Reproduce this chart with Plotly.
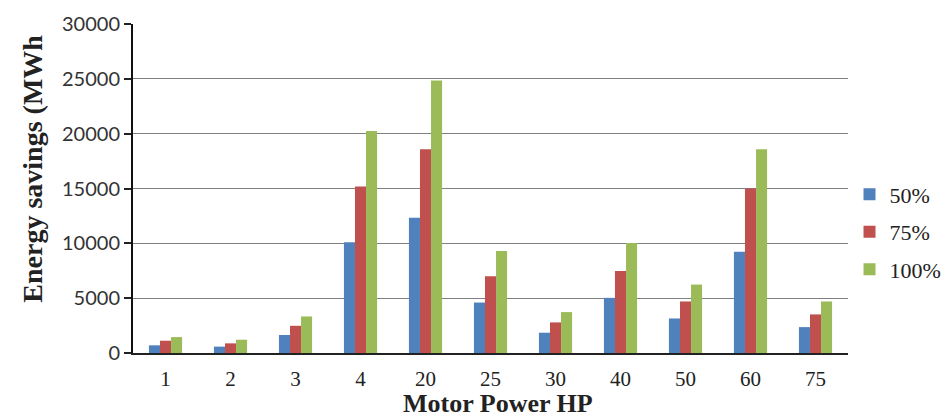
import plotly.graph_objects as go

categories = ["1", "2", "3", "4", "20", "25", "30", "40", "50", "60", "75"]
s50 = [700, 580, 1640, 10090, 12330, 4600, 1850, 5030, 3150, 9240, 2360]
s75 = [1120, 880, 2480, 15180, 18580, 7000, 2790, 7480, 4700, 15000, 3520]
s100 = [1450, 1210, 3330, 20240, 24850, 9300, 3730, 10030, 6240, 18580, 4700]
series_names = ["50%", "75%", "100%"]
colors = ["#4F81BD", "#C0504D", "#9BBB59"]
y_ticks = [0, 5000, 10000, 15000, 20000, 25000, 30000]
y_tick_text = ["0", "5000", "10000", "15000", "20000", "25000", "30000"]

SERIF = "Liberation Serif, Times New Roman, serif"

fig = go.Figure()
for name, vals, c in zip(series_names, [s50, s75, s100], colors):
    fig.add_trace(go.Bar(x=categories, y=vals, name=name, legendgroup=name,
                         marker=dict(color=c, line=dict(width=0))))

fig.update_layout(
    width=946, height=420,
    margin=dict(l=133, r=98, t=24, b=67, autoexpand=False),
    paper_bgcolor="white", plot_bgcolor="white",
    barmode="group", bargap=0.49, bargroupgap=0,
    showlegend=True,
    legend=dict(xref="container", yref="container", x=0.898, y=0.448,
                xanchor="left", yanchor="middle",
                font=dict(family=SERIF, size=22, color="#222"),
                itemwidth=30, tracegroupgap=6),
    xaxis=dict(type="category", showline=True, linecolor="#222", linewidth=2,
               ticks="", showgrid=False, ticklabelstandoff=6, automargin=False,
               tickfont=dict(family=SERIF, size=21, color="#222")),
    yaxis=dict(range=[0, 30000], tickvals=y_ticks, ticktext=y_tick_text,
               showline=True, linecolor="#111", linewidth=2, automargin=False,
               ticks="outside", ticklen=7, tickcolor="#222", tickwidth=1.5,
               showgrid=True, gridcolor="#808080", gridwidth=1.3, zeroline=False,
               tickfont=dict(family="Lato, Open Sans, sans-serif", size=20, color="#333")),
    font=dict(family=SERIF),
)

fig.add_annotation(text="<b>Motor Power HP</b>", xref="paper", yref="paper",
                   x=0.51, y=-0.155, xanchor="center", yanchor="middle", showarrow=False,
                   borderpad=0, font=dict(family=SERIF, size=26, color="#222"))
fig.add_annotation(text="<b>Energy savings (MWh</b>", textangle=-90, xref="paper", yref="paper",
                   x=-0.14, y=0.56, xanchor="center", yanchor="middle", showarrow=False,
                   font=dict(family=SERIF, size=28, color="#222"))

fig.write_html("out.html")
